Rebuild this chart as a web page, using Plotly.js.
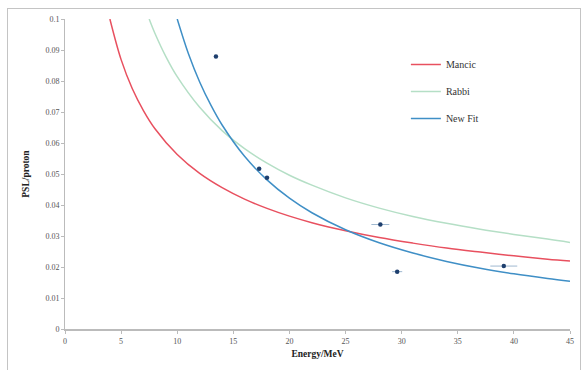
<!DOCTYPE html>
<html><head><meta charset="utf-8">
<script src="https://cdn.plot.ly/plotly-3.0.1.min.js"></script>
<style>
html,body{margin:0;padding:0;background:#fff;}
#wrap{position:relative;width:582px;height:370px;overflow:hidden;}
#chart{width:582px;height:370px;}
#frame{position:absolute;left:7px;top:8px;width:572px;height:370px;border:1px solid #c4c4c4;pointer-events:none;}
</style>
</head><body><div id="wrap"><div id="chart"></div><div id="frame"></div></div>
<script>
// Mancic curve
const mancicE = [4, 5, 6, 7, 8, 10, 12, 14, 16, 18, 20, 22, 25, 28, 31, 34, 37, 40, 43, 45];
const mancicPSL = [0.1, 0.0869, 0.0775, 0.0704, 0.0647, 0.0563, 0.0502, 0.0456, 0.0419, 0.0389, 0.0364, 0.0343, 0.0317, 0.0295, 0.0277, 0.0261, 0.0248, 0.0236, 0.0225, 0.0219];
// Rabbi curve
const rabbiE = [7.5, 8, 9, 10, 12, 14, 16, 18, 20, 22, 25, 28, 31, 34, 37, 40, 43, 45];
const rabbiPSL = [0.1, 0.0955, 0.0878, 0.0814, 0.0715, 0.064, 0.0582, 0.0535, 0.0496, 0.0464, 0.0423, 0.039, 0.0363, 0.0341, 0.0322, 0.0305, 0.029, 0.0279];
// New Fit curve
const newFitE = [10, 11, 12, 13, 14, 16, 18, 20, 22, 25, 28, 31, 34, 37, 40, 43, 45];
const newFitPSL = [0.1, 0.0888, 0.0797, 0.0722, 0.0658, 0.0557, 0.0481, 0.0422, 0.0375, 0.032, 0.0278, 0.0245, 0.0218, 0.0196, 0.0178, 0.0163, 0.0154];
// Measured points
const dataE = [13.45, 17.3, 18.0, 28.1, 29.6, 39.1];
const dataPSL = [0.0879, 0.0517, 0.0488, 0.0337, 0.0185, 0.0203];
const dataEErr = [0, 0.2, 0.2, 0.8, 0.45, 1.2];
// Axis ticks
const xTicks = [0, 5, 10, 15, 20, 25, 30, 35, 40, 45];
const yTicks = [0, 0.01, 0.02, 0.03, 0.04, 0.05, 0.06, 0.07, 0.08, 0.09, 0.1];
const yTickText = ['0', '0.01', '0.02', '0.03', '0.04', '0.05', '0.06', '0.07', '0.08', '0.09', '0.1'];

const serif = 'Liberation Serif, Times New Roman, serif';
const traces = [
  {x: mancicE, y: mancicPSL, name: 'Mancic', legendgroup: 'a', mode: 'lines', line: {color: '#e8505f', width: 1.5, shape: 'spline'}},
  {x: rabbiE, y: rabbiPSL, name: 'Rabbi', legendgroup: 'b', mode: 'lines', line: {color: '#b5dfc6', width: 1.5, shape: 'spline'}},
  {x: newFitE, y: newFitPSL, name: 'New Fit', legendgroup: 'c', mode: 'lines', line: {color: '#3f8fc6', width: 1.5, shape: 'spline'}},
  {x: dataE, y: dataPSL, name: 'Data', mode: 'markers', showlegend: false,
   marker: {color: '#1e3f6e', size: 4.5},
   error_x: {type: 'data', array: dataEErr, color: '#9fb8d0', thickness: 1, width: 0}}
];
const layout = {
  width: 582, height: 370,
  paper_bgcolor: '#ffffff', plot_bgcolor: '#ffffff',
  margin: {l: 64.5, r: 12, t: 19, b: 40.5},
  font: {family: serif, size: 8, color: '#555'},
  showlegend: true,
  legend: {x: 0.675, y: 0.9, xanchor: 'left', yanchor: 'top', bgcolor: 'rgba(0,0,0,0)',
    traceorder: 'grouped', tracegroupgap: 8,
    font: {family: serif, size: 10, color: '#333'}, itemwidth: 30},
  xaxis: {range: [0, 45], tickvals: xTicks, ticktext: xTicks.map(String),
    showgrid: false, zeroline: false, showline: true, linecolor: '#bbb', linewidth: 2,
    ticks: 'outside', ticklen: 3, tickcolor: '#bbb', tickfont: {family: serif, size: 8, color: '#555'},
    title: {text: '<b>Energy/MeV</b>', font: {family: serif, size: 9.5, color: '#222'}, standoff: 6}},
  yaxis: {range: [0, 0.1], tickvals: yTicks, ticktext: yTickText,
    showgrid: false, zeroline: false, showline: true, linecolor: '#bbb', linewidth: 1,
    ticks: 'outside', ticklen: 3, tickcolor: '#bbb', tickfont: {family: serif, size: 8, color: '#555'},
    title: {text: '<b>PSL/proton</b>', font: {family: serif, size: 9.5, color: '#222'}, standoff: 14}}
};
Plotly.newPlot('chart', traces, layout, {displayModeBar: false, staticPlot: true});
</script></body></html>
